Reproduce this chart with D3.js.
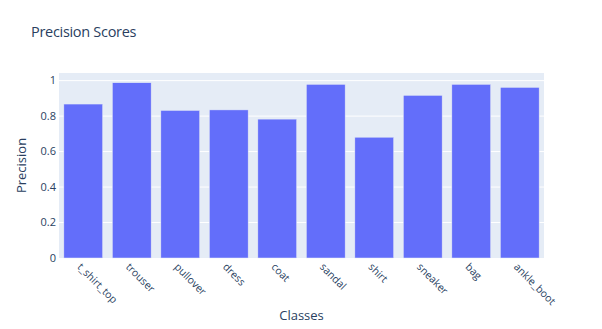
<!DOCTYPE html>
<meta charset="utf-8">
<style>
body { margin: 0; background: #fff; }
text { font-family: "Open Sans", verdana, arial, sans-serif; fill: #2a3f5f; }
.grid line { stroke: #fff; stroke-width: 1; }
</style>
<body>
<div id="chart"></div>
<script src="https://d3js.org/d3.v7.min.js"></script>
<script>
// class names and precision per class
var classes = ['t_shirt_top', 'trouser', 'pullover', 'dress', 'coat', 'sandal', 'shirt', 'sneaker', 'bag', 'ankle_boot'];
var precision = [0.868, 0.988, 0.832, 0.835, 0.783, 0.979, 0.681, 0.917, 0.979, 0.962];
var yTicks = [0, 0.2, 0.4, 0.6, 0.8, 1];

var W = 602, H = 329;
var m = {left: 59, right: 58, top: 73, bottom: 71};

var svg = d3.select("#chart").append("svg").attr("width", W).attr("height", H);

var x = d3.scaleBand().domain(classes).range([m.left, W - m.right]).paddingInner(0.2).paddingOuter(0.1);
var y = d3.scaleLinear().domain([0, 1.043]).range([H - m.bottom, m.top]);

// plot background
svg.append("rect")
   .attr("x", m.left).attr("y", m.top)
   .attr("width", W - m.left - m.right).attr("height", H - m.top - m.bottom)
   .attr("fill", "#E5ECF6");

// gridlines
svg.append("g").attr("class", "grid")
   .selectAll("line").data(yTicks.slice(1)).join("line")
   .attr("x1", m.left).attr("x2", W - m.right)
   .attr("y1", d => y(d)).attr("y2", d => y(d));

// bars
svg.append("g").selectAll("rect").data(classes).join("rect")
   .attr("x", d => x(d))
   .attr("width", x.bandwidth())
   .attr("y", (d, i) => y(precision[i]))
   .attr("height", (d, i) => y(0) - y(precision[i]))
   .attr("fill", "#636EFA")
   .attr("stroke", "#E5ECF6").attr("stroke-width", 0.5);

// y axis labels
svg.append("g").selectAll("text").data(yTicks).join("text")
   .attr("x", m.left - 3).attr("y", d => y(d)).attr("dy", "0.35em")
   .attr("text-anchor", "end").style("font-size", "11px")
   .text(d => d3.format("~g")(d));

// x axis labels, rotated
svg.append("g").selectAll("text").data(classes).join("text")
   .attr("transform", d => "translate(" + (x(d) + x.bandwidth() / 2 - 4) + "," + (y(0) + 7) + ") rotate(45)")
   .attr("dy", "0.35em")
   .attr("text-anchor", "start").style("font-size", "10.5px")
   .text(d => d);

// titles
svg.append("text").attr("x", 31).attr("y", 37).style("font-size", "14.5px")
   .style("letter-spacing", "-0.3px").text("Precision Scores");
svg.append("text").attr("x", (m.left + W - m.right) / 2).attr("y", 320)
   .attr("text-anchor", "middle").style("font-size", "13px").text("Classes");
svg.append("text").attr("transform", "translate(26," + ((m.top + H - m.bottom) / 2) + ") rotate(-90)")
   .attr("text-anchor", "middle").style("font-size", "13px").text("Precision");
</script>
</body>
